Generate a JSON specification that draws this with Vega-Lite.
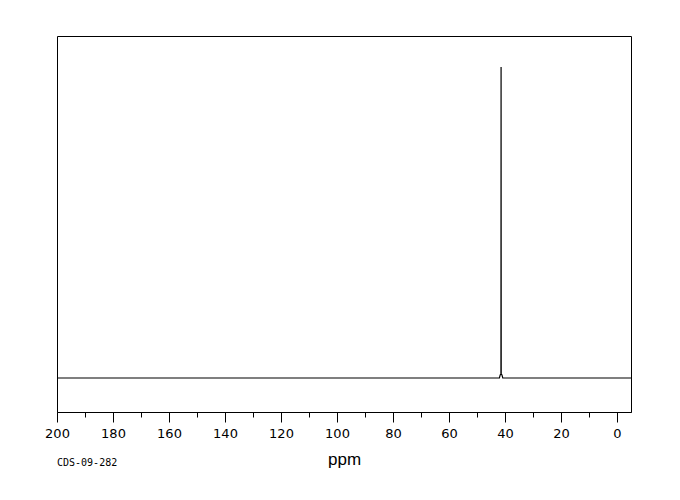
{
  "$schema": "https://vega.github.io/schema/vega-lite/v6.json",
  "autosize": {"type": "none"},
  "padding": {"left": 57, "top": 36, "right": 49, "bottom": 88},
  "width": 574,
  "height": 376,
  "background": "white",
  "title": {
    "text": "CDS-09-282",
    "orient": "bottom",
    "anchor": "start",
    "frame": "group",
    "font": "DejaVu Sans Mono",
    "fontSize": 10,
    "fontWeight": "normal",
    "color": "black",
    "offset": -9
  },
  "config": {
    "view": {"stroke": "black", "strokeWidth": 1},
    "axis": {"grid": false, "domainColor": "black", "tickColor": "black", "labelColor": "black", "titleColor": "black"}
  },
  "data": {
    "values": [
      {"ppm": 200, "intensity": 0},
      {"ppm": 42.0, "intensity": 0},
      {"ppm": 41.7, "intensity": 1.0},
      {"ppm": 41.45, "intensity": 1.2},
      {"ppm": 41.4, "intensity": 100},
      {"ppm": 41.35, "intensity": 1.2},
      {"ppm": 41.1, "intensity": 1.0},
      {"ppm": 40.8, "intensity": 0},
      {"ppm": -5, "intensity": 0}
    ]
  },
  "layer": [
    {
      "mark": {"type": "line", "color": "black", "strokeWidth": 1.2, "clip": true},
      "encoding": {
        "x": {
          "field": "ppm", "type": "quantitative",
          "scale": {"domain": [-5, 200], "reverse": true, "nice": false, "zero": false},
          "axis": {
            "orient": "bottom",
            "values": [0, 20, 40, 60, 80, 100, 120, 140, 160, 180, 200],
            "tickSize": 10,
            "labelFont": "DejaVu Sans",
            "labelFontSize": 13,
            "labelPadding": 5,
            "labelFlush": false,
            "title": "ppm",
            "titleFont": "Liberation Sans",
            "titleFontSize": 17,
            "titleFontWeight": "normal",
            "titlePadding": 11
          }
        },
        "y": {
          "field": "intensity", "type": "quantitative",
          "scale": {"domain": [-10.93, 109.97], "nice": false, "zero": false},
          "axis": null
        }
      }
    },
    {
      "mark": {"type": "line", "opacity": 0},
      "encoding": {
        "x": {
          "field": "ppm", "type": "quantitative",
          "axis": {
            "orient": "bottom",
            "values": [10, 30, 50, 70, 90, 110, 130, 150, 170, 190],
            "tickSize": 5,
            "labels": false,
            "domain": false,
            "title": null
          }
        },
        "y": {"field": "intensity", "type": "quantitative", "axis": null}
      }
    }
  ],
  "resolve": {"axis": {"x": "independent"}}
}
